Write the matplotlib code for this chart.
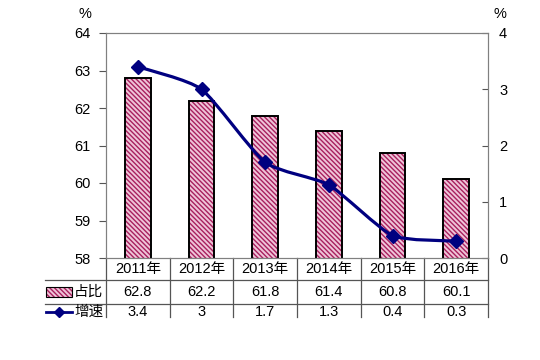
import matplotlib
matplotlib.use("Agg")
import matplotlib.pyplot as plt
import numpy as np
from matplotlib.path import Path
from matplotlib.patches import PathPatch, Rectangle
from matplotlib.lines import Line2D
import matplotlib.transforms as mtransforms

plt.rcParams['font.family'] = ['Liberation Sans', 'Noto Sans CJK SC']
plt.rcParams['font.size'] = 10.5
plt.rcParams['hatch.linewidth'] = 1.0

# data
years = ["2011年", "2012年", "2013年", "2014年", "2015年", "2016年"]
share = [62.8, 62.2, 61.8, 61.4, 60.8, 60.1]      # 占比
growth = [3.4, 3, 1.7, 1.3, 0.4, 0.3]             # 增速
share_name = "占比"
growth_name = "增速"

bar_face = "#EFC4D8"
bar_hatch = "#A8205E"
line_col = "#000080"
grid_col = "#555555"
fs = 10.5


def smooth_path(xs, ys, k=10.0):
    """geglaettete Linie (Catmull-Rom -> Bezier), nur leicht gebogen."""
    pts = np.column_stack([xs, ys]).astype(float)
    ext = np.vstack([pts[0], pts, pts[-1]])
    verts = [pts[0]]
    codes = [Path.MOVETO]
    for i in range(1, len(ext) - 2):
        p0, p1, p2, p3 = ext[i - 1], ext[i], ext[i + 1], ext[i + 2]
        c1 = p1 + (p2 - p0) / k
        c2 = p2 - (p3 - p1) / k
        verts += [c1, c2, p2]
        codes += [Path.CURVE4] * 3
    return Path(verts, codes)


fig = plt.figure(figsize=(5.4, 3.6), dpi=100)
ax = fig.add_axes([106 / 540, 1 - 258 / 360, 382 / 540, 225 / 360])
x = np.arange(len(years))

ax.bar(x, share, width=0.4, color=bar_face, edgecolor=bar_hatch, hatch='\\\\\\\\\\\\\\',
       linewidth=0, zorder=2)
ax.bar(x, share, width=0.4, fill=False, edgecolor='black', linewidth=1.4, zorder=3)
ax.set_xlim(-0.5, len(years) - 0.5)
ax.set_ylim(58, 64)
ax.set_yticks(range(58, 65))
ax.set_xticks([])
ax.tick_params(axis='y', direction='out', length=5, pad=6, color=grid_col, labelsize=fs)
for s in ax.spines.values():
    s.set_color('#808080')

ax2 = ax.twinx()
ax2.set_ylim(0, 4)
ax2.set_yticks(range(0, 5))
ax2.tick_params(axis='y', direction='in', length=4, pad=8, color=grid_col, labelsize=fs)
for s in ax2.spines.values():
    s.set_color('#808080')
ax2.add_patch(PathPatch(smooth_path(x, growth), fill=False, edgecolor=line_col,
                        linewidth=2.3, zorder=4))
ax2.plot(x, growth, linestyle='none', marker='D', markersize=7, color=line_col, zorder=5)

fig.text(85 / 540, 1 - 14 / 360, "%", ha='center', va='center', fontsize=fs)
fig.text(500 / 540, 1 - 14 / 360, "%", ha='center', va='center', fontsize=fs)

# data table below the plot
trans = mtransforms.blended_transform_factory(ax.transData, ax.transAxes)
y_top, y_r1, y_r2, y_bot = 0.0, -22 / 225, -46 / 225, -59 / 225
y_c = [-11 / 225, -34 / 225, -54 / 225]
for b in np.arange(len(years) + 1) - 0.5:
    ax.add_line(Line2D([b, b], [y_top, y_bot], transform=trans, color=grid_col,
                       linewidth=0.9, clip_on=False))
left_edge = (45 - 106) / 382 * len(years) - 0.5
for yy in (y_r1, y_r2):
    ax.add_line(Line2D([left_edge, len(years) - 0.5], [yy, yy], transform=trans,
                       color=grid_col, linewidth=0.9, clip_on=False))
for i in range(len(years)):
    ax.text(x[i], y_c[0], years[i], transform=trans, ha='center', va='center', fontsize=fs)
    ax.text(x[i], y_c[1], f"{share[i]:g}", transform=trans, ha='center', va='center', fontsize=fs)
    ax.text(x[i], y_c[2], f"{growth[i]:g}", transform=trans, ha='center', va='center', fontsize=fs)

# legend keys in the row headers
fig.patches.append(Rectangle((46 / 540, 1 - 297 / 360), 26 / 540, 10 / 360,
                             transform=fig.transFigure, facecolor=bar_face,
                             edgecolor=bar_hatch, hatch='\\\\\\\\\\\\\\', linewidth=0))
fig.patches.append(Rectangle((46 / 540, 1 - 297 / 360), 26 / 540, 10 / 360,
                             transform=fig.transFigure, fill=False,
                             edgecolor='black', linewidth=0.8))
fig.text(74 / 540, 1 - 292 / 360, share_name, ha='left', va='center', fontsize=fs)
fig.lines.append(Line2D([46 / 540, 72 / 540], [1 - 312 / 360, 1 - 312 / 360],
                        transform=fig.transFigure, color=line_col, linewidth=2))
fig.lines.append(Line2D([59 / 540], [1 - 312 / 360], transform=fig.transFigure,
                        color=line_col, marker='D', markersize=5, linestyle='none'))
fig.text(74 / 540, 1 - 312 / 360, growth_name, ha='left', va='center', fontsize=fs)

fig.savefig("out.png", dpi=100)
